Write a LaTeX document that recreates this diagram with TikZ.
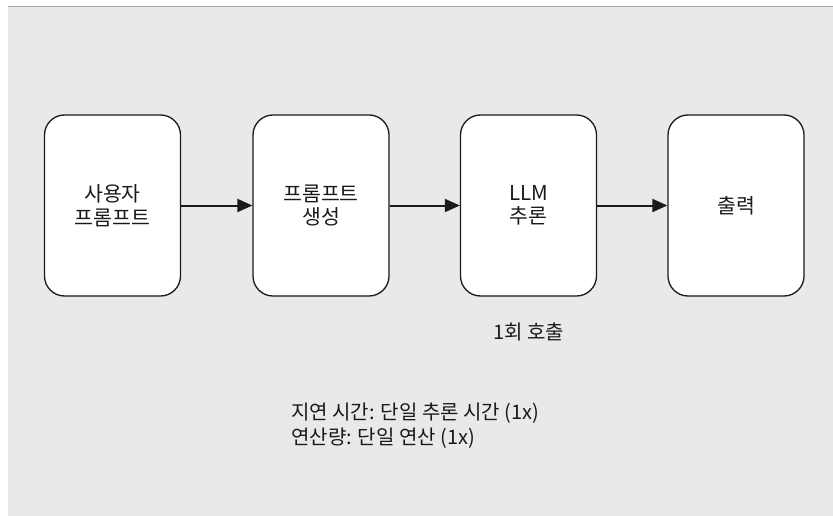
\documentclass[tikz,border=0pt]{standalone}
\usepackage{fontspec}
\setmainfont{Noto Sans CJK KR}
\usetikzlibrary{arrows.meta}
\definecolor{bgc}{HTML}{E9E9E9}
\definecolor{topline}{HTML}{A6A6A6}
\definecolor{ink}{HTML}{1A1A1A}
\tikzset{
  stepbox/.style={draw=ink, fill=white, line width=1.3pt, rounded corners=20pt,
    minimum width=136pt, minimum height=181pt, align=center, text=ink,
    font=\fontsize{20.5}{23.5}\selectfont},
  flow/.style={draw=ink, line width=2pt, -{Triangle[length=15pt,width=13pt]}},
  note/.style={text=ink, font=\fontsize{20}{25}\selectfont, inner sep=0pt}
}
\begin{document}
\begin{tikzpicture}[x=1pt,y=-1pt]
\useasboundingbox (0,0) rectangle (833,516);
\fill[bgc] (8,6) rectangle (833,516);
\draw[topline, line width=1.5pt] (8,6.5) -- (833,6.5);
\node[stepbox] (a) at (112.5,205.5) {사용자\\프롬프트};
\node[stepbox] (b) at (321,205.5) {프롬프트\\생성};
\node[stepbox] (c) at (528.5,205.5) {LLM\\추론};
\node[stepbox] (d) at (736,205.5) {출력};
\draw[flow] (a) -- (b);
\draw[flow] (b) -- (c);
\draw[flow] (c) -- (d);
\node[note] (calls) at (528.5,332) {1회 호출};
\node[note, anchor=west, align=left] (summary) at (291,425.5) {지연 시간: 단일 추론 시간 (1x)\\연산량: 단일 연산 (1x)};
\end{tikzpicture}
\end{document}
